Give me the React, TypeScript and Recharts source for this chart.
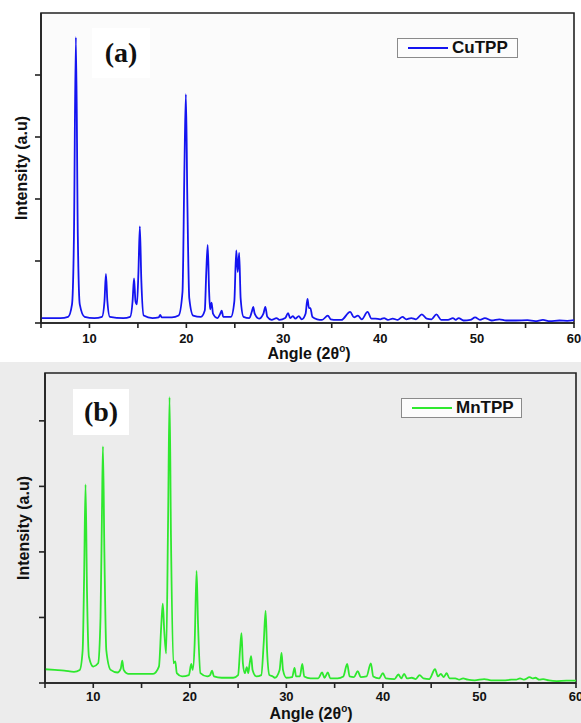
import React from 'react';
import { LineChart, Line, XAxis, YAxis, ReferenceArea, Legend } from 'recharts';

// ---- data: [angle 2θ, intensity (a.u.)] ----
const cuTPP: [number, number][] = [
  [5,0.08],[6,0.08],[7,0.08],[7.8,0.1],[8.2,0.3],[8.4,1.4],[8.6,4.61],[8.8,1.4],[9.0,0.3],[9.5,0.1],
  [10.5,0.08],[11.3,0.1],[11.55,0.35],[11.7,0.79],[11.85,0.35],[12.1,0.1],[13.5,0.08],[14.2,0.1],
  [14.45,0.35],[14.6,0.72],[14.75,0.35],[14.9,0.3],[15.05,0.8],[15.2,1.56],[15.35,0.7],[15.6,0.12],
  [16.5,0.08],[17.15,0.09],[17.3,0.13],[17.45,0.09],[18.5,0.09],[19.2,0.12],[19.6,0.5],[19.8,2.5],
  [19.95,3.69],[20.1,2.0],[20.3,0.4],[20.7,0.12],[21.5,0.1],[21.9,0.2],[22.05,0.8],[22.2,1.26],
  [22.35,0.5],[22.45,0.22],[22.6,0.33],[22.75,0.15],[23.2,0.08],[23.5,0.15],[23.65,0.2],[23.8,0.1],
  [24.6,0.1],[24.95,0.35],[25.15,1.17],[25.3,0.82],[25.45,1.13],[25.6,0.4],[25.9,0.1],[26.5,0.08],
  [26.75,0.18],[26.9,0.26],[27.05,0.15],[27.5,0.07],[27.95,0.15],[28.15,0.26],[28.35,0.1],[28.8,0.05],
  [29.3,0.08],[29.6,0.05],[30.2,0.08],[30.5,0.16],[30.7,0.08],[31.0,0.11],[31.25,0.07],[31.6,0.11],
  [31.9,0.06],[32.3,0.15],[32.5,0.39],[32.65,0.24],[32.8,0.24],[33.0,0.1],[33.5,0.06],[34.0,0.05],
  [34.6,0.12],[34.9,0.06],[35.5,0.05],[36.0,0.05],[36.9,0.18],[37.3,0.09],[37.7,0.12],[38.1,0.06],
  [38.7,0.18],[39.1,0.07],[39.5,0.07],[40.0,0.06],[40.4,0.08],[40.8,0.05],[41.3,0.07],[41.8,0.05],
  [42.3,0.1],[42.7,0.06],[43.2,0.08],[43.7,0.06],[44.3,0.14],[44.8,0.07],[45.3,0.06],[45.8,0.14],
  [46.3,0.05],[47.0,0.05],[47.5,0.08],[47.8,0.05],[48.1,0.08],[48.6,0.04],[49.3,0.05],[49.8,0.09],
  [50.3,0.05],[50.8,0.08],[51.5,0.04],[52.3,0.06],[53,0.04],[54,0.04],[55.2,0.045],[56,0.03],
  [56.8,0.05],[57.5,0.03],[58.5,0.04],[59.3,0.035],[60,0.045],
];

const mnTPP: [number, number][] = [
  [5,0.21],[6,0.2],[7,0.19],[8,0.17],[8.6,0.2],[8.9,0.5],[9.05,1.6],[9.2,3.03],[9.35,1.4],[9.55,0.4],
  [10.0,0.25],[10.5,0.3],[10.75,1.0],[10.9,2.6],[11.0,3.61],[11.15,2.0],[11.35,0.5],[11.8,0.2],
  [12.5,0.16],[12.85,0.22],[13.0,0.34],[13.15,0.2],[13.6,0.14],[15,0.14],[16.2,0.14],[16.8,0.25],
  [17.05,0.9],[17.2,1.21],[17.35,0.8],[17.55,0.45],[17.75,2.5],[17.9,4.36],[18.05,2.2],[18.3,0.3],
  [18.5,0.33],[18.65,0.15],[19.2,0.1],[19.9,0.12],[20.15,0.29],[20.3,0.2],[20.5,0.6],[20.7,1.71],
  [20.85,0.9],[21.1,0.15],[21.8,0.1],[22.1,0.12],[22.3,0.19],[22.5,0.1],[23.3,0.08],[24.5,0.08],
  [25.0,0.12],[25.2,0.5],[25.35,0.76],[25.5,0.3],[25.7,0.15],[25.9,0.24],[26.05,0.15],[26.2,0.3],
  [26.35,0.41],[26.5,0.2],[26.9,0.1],[27.4,0.12],[27.65,0.6],[27.85,1.1],[28.0,0.5],[28.25,0.12],
  [28.6,0.1],[28.8,0.08],[29.3,0.2],[29.5,0.46],[29.65,0.2],[30.0,0.08],[30.6,0.09],[30.85,0.23],
  [31.0,0.1],[31.4,0.1],[31.65,0.29],[31.85,0.1],[32.5,0.07],[33.3,0.07],[33.7,0.16],[33.95,0.08],
  [34.3,0.16],[34.55,0.07],[35.3,0.07],[35.9,0.1],[36.3,0.29],[36.55,0.1],[37.0,0.09],[37.4,0.18],
  [37.7,0.09],[38.3,0.1],[38.75,0.3],[39.0,0.1],[39.6,0.07],[40.0,0.15],[40.3,0.07],[41.2,0.06],
  [41.6,0.13],[41.9,0.07],[42.2,0.14],[42.5,0.07],[43.0,0.08],[43.4,0.06],[43.8,0.12],[44.2,0.07],
  [44.8,0.06],[45.4,0.21],[45.7,0.1],[46.0,0.14],[46.3,0.09],[46.6,0.15],[46.9,0.07],[47.5,0.07],
  [47.9,0.05],[48.3,0.07],[48.8,0.05],[49.5,0.04],[50.5,0.06],[51.2,0.04],[52.5,0.04],[53.3,0.05],
  [53.8,0.05],[54.2,0.07],[54.6,0.05],[55.2,0.09],[55.5,0.07],[55.8,0.08],[56.2,0.05],[56.6,0.06],
  [57.2,0.04],[58,0.03],[59,0.035],[60,0.035],
];

const xTicks = [5, 10, 15, 20, 25, 30, 35, 40, 45, 50, 55, 60];
const xLabeled = [10, 20, 30, 40, 50, 60];
const yTicks = [0, 1, 2, 3, 4];
const cuYMax = 5;
const mnYMax = 4.73;
const xTitle = 'Angle (2θ';
const yTitle = 'Intensity (a.u)';

const SANS = '"Liberation Sans", Arial, sans-serif';
const SERIF = '"Liberation Serif", "Times New Roman", serif';
const AXIS = '#222';

type PanelProps = {
  top: number;
  height: number;
  data: [number, number][];
  color: string;
  name: string;
  yMax: number;
  margin: { top: number; right: number; left: number; bottom: number };
  yWidth: number;
  xHeight: number;
  tickMargin: number;
  legendLeft: number;
  legendTop: number;
};

function LegendBox({ color, name }: { color: string; name: string }) {
  return (
    <div
      style={{
        display: 'flex',
        alignItems: 'center',
        width: 121,
        height: 20,
        border: '1px solid #8a8a8a',
        background: '#fcfcfc',
        boxSizing: 'border-box',
      }}
    >
      <svg width={54} height={18} style={{ display: 'block' }}>
        <line x1={10} y1={9} x2={50} y2={9} stroke={color} strokeWidth={2} />
      </svg>
      <span style={{ fontFamily: SANS, fontWeight: 'bold', fontSize: 17, color: '#111', lineHeight: '18px' }}>
        {name}
      </span>
    </div>
  );
}

function Panel(p: PanelProps) {
  const rows = p.data.map(([x, y]) => ({ x, y }));
  return (
    <div style={{ position: 'absolute', left: 0, top: p.top }}>
      <LineChart width={581} height={p.height} data={rows} margin={p.margin}>
        <XAxis
          dataKey="x"
          type="number"
          domain={[5, 60]}
          ticks={xTicks}
          interval={0}
          allowDataOverflow
          tickFormatter={(v: number) => (xLabeled.includes(v) ? String(v) : '')}
          height={p.xHeight}
          tickSize={5}
          tickMargin={p.tickMargin}
          stroke={AXIS}
          strokeWidth={1.6}
          tickLine={{ stroke: AXIS, strokeWidth: 1.6 }}
          tick={{ fill: '#111', fontSize: 13, fontWeight: 'bold', fontFamily: SANS }}
        />
        <YAxis
          type="number"
          domain={[0, p.yMax]}
          ticks={yTicks}
          interval={0}
          allowDataOverflow
          tickFormatter={() => ''}
          tickLine={{ stroke: AXIS, strokeWidth: 1.6 }}
          tickSize={6}
          width={p.yWidth}
          stroke={AXIS}
          strokeWidth={1.6}
        />
        <ReferenceArea x1={5} x2={60} y1={0} y2={p.yMax} fill="none" stroke={AXIS} strokeWidth={1.6} ifOverflow="visible" />
        <Line
          type="monotone"
          dataKey="y"
          name={p.name}
          stroke={p.color}
          strokeWidth={1.8}
          dot={false}
          activeDot={false}
          isAnimationActive={false}
        />
        <Legend
          layout="vertical"
          align="center"
          verticalAlign="middle"
          wrapperStyle={{ position: 'absolute', left: p.legendLeft, top: p.legendTop, width: 'auto', height: 'auto' }}
          content={() => <LegendBox color={p.color} name={p.name} />}
        />
      </LineChart>
    </div>
  );
}

function Titles() {
  const t = (cx: number, y: number) => (
    <text x={cx} y={y} textAnchor="middle" fontFamily={SANS} fontWeight="bold" fontSize={16} fill="#111">
      {xTitle}
      <tspan dy={-7} fontSize={10}>o</tspan>
      <tspan dy={7}>)</tspan>
    </text>
  );
  const yt = (cx: number, cy: number) => (
    <text
      x={cx}
      y={cy}
      textAnchor="middle"
      dominantBaseline="central"
      transform={`rotate(-90 ${cx} ${cy})`}
      fontFamily={SANS}
      fontWeight="bold"
      fontSize={16}
      fill="#111"
    >
      {yTitle}
    </text>
  );
  return (
    <svg width={581} height={723} style={{ position: 'absolute', left: 0, top: 0, pointerEvents: 'none' }}>
      {t(309, 359)}
      {t(311, 719)}
      {yt(21, 168)}
      {yt(23, 528)}
    </svg>
  );
}

function PanelTag({ text, left, top, width, height }: { text: string; left: number; top: number; width: number; height: number }) {
  return (
    <div
      style={{
        position: 'absolute',
        left,
        top,
        width,
        height,
        background: '#ffffff',
        fontFamily: SERIF,
        fontWeight: 'bold',
        fontSize: 28,
        color: '#111',
        display: 'flex',
        alignItems: 'center',
        justifyContent: 'center',
      }}
    >
      {text}
    </div>
  );
}

export default function App() {
  return (
    <div style={{ position: 'absolute', left: 0, top: 0, width: 581, height: 723, background: '#ffffff', overflow: 'hidden' }}>
      <div style={{ position: 'absolute', left: 41, top: 13, width: 533, height: 310, background: '#fbfbfb' }} />
      <div style={{ position: 'absolute', left: 0, top: 362, width: 581, height: 361, background: '#ececec' }} />
      <PanelTag text="(a)" left={92} top={28} width={58} height={50} />
      <PanelTag text="(b)" left={73} top={389} width={56} height={46} />
      <Panel
        top={0}
        height={360}
        data={cuTPP}
        color="#1414f0"
        name="CuTPP"
        yMax={cuYMax}
        margin={{ top: 13, right: 7, left: 0, bottom: 0 }}
        yWidth={41}
        xHeight={37}
        tickMargin={6}
        legendLeft={397}
        legendTop={38}
      />
      <Panel
        top={360}
        height={363}
        data={mnTPP}
        color="#2ee82e"
        name="MnTPP"
        yMax={mnYMax}
        margin={{ top: 13, right: 5, left: 0, bottom: 0 }}
        yWidth={45}
        xHeight={40}
        tickMargin={4}
        legendLeft={401}
        legendTop={38}
      />
      <Titles />
    </div>
  );
}
